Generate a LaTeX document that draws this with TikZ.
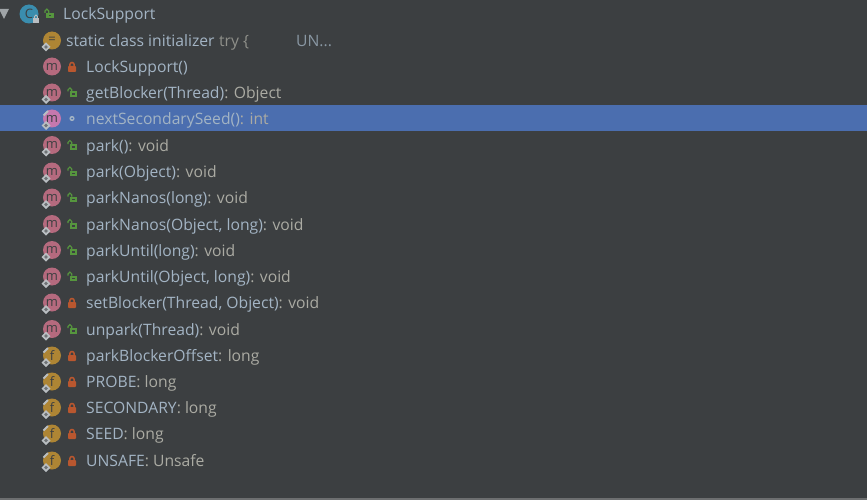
\documentclass[tikz,border=0pt]{standalone}
\usepackage{fontspec}
\setmainfont{Open Sans}
\definecolor{panelbg}{HTML}{3C3F41}
\definecolor{selbg}{HTML}{4B6EAF}
\definecolor{nametxt}{HTML}{A3B4C4}
\definecolor{typetxt}{HTML}{ABABA3}
\definecolor{mcolor}{HTML}{B56A7E}
\definecolor{mselcolor}{HTML}{C578AE}
\definecolor{fcolor}{HTML}{AE8534}
\definecolor{ccolor}{HTML}{3A8DAE}
\definecolor{lockred}{HTML}{B9572F}
\definecolor{lockgreen}{HTML}{56963E}
\definecolor{badge}{HTML}{B9BEC2}
\definecolor{icontxt}{HTML}{3C3F41}
\tikzset{
  rowtext/.style={anchor=base west,inner sep=0pt,yshift=-.7pt,font=\fontsize{15.7}{18}\selectfont},
  icon/.style={circle,minimum size=18pt,inner sep=0pt,text=icontxt,font=\fontsize{13}{13}\selectfont},
}
\newcommand{\lockred}[1]{%
  \fill[lockred,rounded corners=.8pt] (68,#1-.5) rectangle (76,#1+5.5);
  \draw[lockred,line width=1.5pt] (69.8,#1) -- (69.8,#1-1.8) arc (180:360:2.2) -- (74.2,#1);}
\newcommand{\lockgreen}[1]{%
  \fill[lockgreen] (69.5,#1-1) rectangle (77,#1+4.5);
  \draw[lockgreen,line width=1.2pt] (68,#1-1) -- (68,#1-2.6) arc (180:360:1.9) -- (71.8,#1-1);
  \fill[panelbg] (72,#1+1) rectangle (74.5,#1+2.5);}
\newcommand{\diamondbadge}[1]{%
  \fill[badge] (46,#1+2.5) -- (50.5,#1+7) -- (46,#1+11.5) -- (41.5,#1+7) -- cycle;
  \fill[panelbg!60!badge] (46,#1+5.2) -- (47.8,#1+7) -- (46,#1+8.8) -- (44.2,#1+7) -- cycle;}
\newcommand{\pinbadge}[1]{%
  \draw[badge,line width=2pt] (43.5,#1-3) -- (48,#1-7.5);}
\begin{document}
\begin{tikzpicture}[x=1pt,y=-1pt]
  \useasboundingbox (0,0) rectangle (867,500);
  \fill[panelbg] (0,0) rectangle (867,500);
  \fill[panelbg!75!white] (0,498) rectangle (867,500);
  \fill[selbg] (0,105) rectangle (867,131.5);

  % header row
  \fill[badge!80!panelbg] (-1,9) -- (9,9) -- (4,19) -- cycle;
  \node[icon,fill=ccolor,minimum size=19pt] (clsicon) at (29,14) {C};
  \fill[badge] (33,18) rectangle (39,23.5);
  \draw[badge,line width=.9pt] (34.5,18) -- (34.5,16.5) arc (180:360:1.5) -- (37.5,18);
  \draw[lockgreen,line width=1.2pt] (45,13) -- (45,11) arc (180:360:1.9) -- (48.8,13);
  \fill[lockgreen] (46,13) rectangle (53.5,18.5);
  \fill[panelbg] (48.5,15) rectangle (51,16.5);
  \node[rowtext,text=nametxt] (clsname) at (63,19) {LockSupport};

  % initializer row
  \node[icon,fill=fcolor] (initicon) at (52,40.5) {=};
  \diamondbadge{40}
  \node[rowtext,text=nametxt] (inittxt) at (66,46) {static class initializer};
  \node[rowtext,text=typetxt!75!panelbg] (tryblock) at (219,46) {try \{};
  \node[rowtext,text=nametxt!75!panelbg] (unsafe) at (296,46) {UN...};

  % methods
  \foreach \rowy/\name/\rtype [count=\i] in {
      92.5/getBlocker(Thread)/{: Object},
      145/park()/{: void},
      171.5/park(Object)/{: void},
      197.5/parkNanos(long)/{: void},
      224/{parkNanos(Object, long)}/{: void},
      250/parkUntil(long)/{: void},
      276.5/{parkUntil(Object, long)}/{: void},
      329/unpark(Thread)/{: void}} {
    \node[icon,fill=mcolor] (m\i) at (52,\rowy) {m};
    \diamondbadge{\rowy}
    \lockgreen{\rowy}
    \node[rowtext] (mtxt\i) at (86,\rowy+5.5) {\textcolor{nametxt}{\name}\textcolor{typetxt}{\rtype}};
  }

  % private constructor, no badge
  \node[icon,fill=mcolor] (ctoricon) at (52,66.5) {m};
  \lockred{66.5}
  \node[rowtext,text=nametxt] (ctortxt) at (86,72) {LockSupport()};

  % selected row
  \node[icon,fill=mselcolor] (selicon) at (52,118.5) {m};
  \pinbadge{118.5}
  \diamondbadge{118.5}
  \fill[nametxt] (72,118.5) circle (2.6);
  \fill[selbg] (72,118.5) circle (1);
  \node[rowtext] (seltxt) at (86,124) {\textcolor{nametxt}{nextSecondarySeed()}\textcolor{typetxt}{: int}};

  % setBlocker
  \node[icon,fill=mcolor] (sbicon) at (52,302.5) {m};
  \diamondbadge{302.5}
  \lockred{302.5}
  \node[rowtext] (sbtxt) at (86,308) {\textcolor{nametxt}{setBlocker(Thread, Object)}\textcolor{typetxt}{: void}};

  % fields
  \foreach \rowy/\name/\rtype [count=\i] in {
      355.5/parkBlockerOffset/long,
      381.5/PROBE/long,
      407.5/SECONDARY/long,
      433.5/SEED/long,
      460.5/UNSAFE/Unsafe} {
    \node[icon,fill=fcolor] (f\i) at (52,\rowy) {f};
    \pinbadge{\rowy}
    \diamondbadge{\rowy}
    \lockred{\rowy}
    \node[rowtext] (ftxt\i) at (86,\rowy+5.5) {\textcolor{nametxt}{\name}\textcolor{typetxt}{: \rtype}};
  }
\end{tikzpicture}
\end{document}
